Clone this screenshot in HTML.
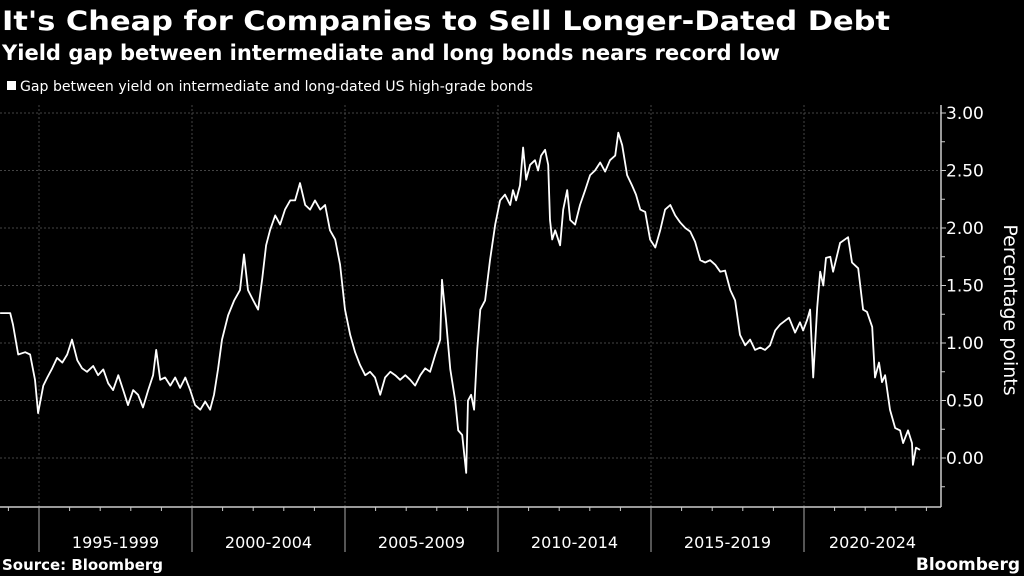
<!DOCTYPE html>
<html><head><meta charset="utf-8"><style>
html,body{margin:0;padding:0;background:#000;}
svg{display:block;}
text{font-family:"DejaVu Sans","Liberation Sans",sans-serif;fill:#fff;}
</style></head><body>
<svg id="chart" width="1024" height="576" viewBox="0 0 1024 576" xmlns="http://www.w3.org/2000/svg">
<rect width="1024" height="576" fill="#000"/>
<text x="2" y="30" font-size="27" font-weight="bold" textLength="888" lengthAdjust="spacingAndGlyphs">It's Cheap for Companies to Sell Longer-Dated Debt</text>
<text x="2" y="60" font-size="21" font-weight="bold" textLength="778" lengthAdjust="spacingAndGlyphs">Yield gap between intermediate and long bonds nears record low</text>
<rect x="7" y="81" width="9" height="9" fill="#fff"/>
<text x="20" y="91" font-size="14" textLength="513" lengthAdjust="spacingAndGlyphs">Gap between yield on intermediate and long-dated US high-grade bonds</text>
<g id="grid"></g>
<g id="axes"></g>
<path id="series" fill="none" stroke="#fff" stroke-width="1.8" stroke-linejoin="round"/>
<text transform="translate(1004,310) rotate(90)" text-anchor="middle" font-size="19">Percentage points</text>
<text x="2" y="570" font-size="15" font-weight="bold" textLength="161" lengthAdjust="spacingAndGlyphs">Source: Bloomberg</text>
<text x="1020" y="570" text-anchor="end" font-size="17" font-weight="bold" font-family="Liberation Sans, sans-serif">Bloomberg</text>
</svg>
<script>
const dates=[1993.73,1994.06,1994.15,1994.32,1994.55,1994.71,1994.87,1994.97,1995.14,1995.27,1995.43,1995.59,1995.76,1995.92,1996.08,1996.25,1996.41,1996.57,1996.77,1996.93,1997.10,1997.26,1997.42,1997.59,1997.75,1997.91,1998.08,1998.24,1998.40,1998.57,1998.73,1998.83,1998.96,1999.12,1999.29,1999.45,1999.61,1999.78,1999.94,2000.10,2000.27,2000.43,2000.59,2000.72,2000.85,2000.98,2001.18,2001.38,2001.57,2001.70,2001.83,2002.00,2002.16,2002.29,2002.42,2002.55,2002.72,2002.88,2003.04,2003.21,2003.37,2003.53,2003.70,2003.86,2004.02,2004.19,2004.35,2004.51,2004.68,2004.84,2005.00,2005.17,2005.33,2005.49,2005.66,2005.82,2005.98,2006.15,2006.31,2006.48,2006.64,2006.80,2006.97,2007.13,2007.29,2007.46,2007.62,2007.78,2007.95,2008.11,2008.17,2008.30,2008.44,2008.60,2008.70,2008.83,2008.96,2009.02,2009.12,2009.22,2009.32,2009.42,2009.58,2009.74,2009.91,2010.07,2010.23,2010.40,2010.49,2010.59,2010.72,2010.82,2010.92,2011.05,2011.21,2011.31,2011.41,2011.54,2011.64,2011.70,2011.77,2011.87,2012.03,2012.13,2012.26,2012.36,2012.52,2012.68,2012.85,2013.01,2013.17,2013.34,2013.50,2013.66,2013.83,2013.93,2014.06,2014.22,2014.38,2014.51,2014.65,2014.81,2014.97,2015.14,2015.30,2015.46,2015.63,2015.79,2015.95,2016.12,2016.28,2016.44,2016.61,2016.77,2016.93,2017.10,2017.26,2017.42,2017.59,2017.75,2017.91,2018.08,2018.24,2018.40,2018.57,2018.73,2018.89,2019.06,2019.22,2019.51,2019.71,2019.87,2019.97,2020.10,2020.20,2020.30,2020.43,2020.53,2020.63,2020.72,2020.86,2020.95,2021.18,2021.44,2021.57,2021.77,2021.93,2022.06,2022.23,2022.32,2022.45,2022.55,2022.65,2022.81,2022.98,2023.14,2023.24,2023.40,2023.53,2023.56,2023.66,2023.79];
const values=[1.26,1.26,1.16,0.90,0.92,0.90,0.68,0.39,0.63,0.70,0.78,0.87,0.83,0.90,1.03,0.85,0.78,0.75,0.80,0.72,0.77,0.65,0.59,0.72,0.59,0.46,0.59,0.55,0.44,0.59,0.72,0.94,0.68,0.70,0.63,0.70,0.61,0.70,0.59,0.46,0.42,0.49,0.42,0.55,0.77,1.03,1.24,1.37,1.46,1.77,1.46,1.37,1.29,1.55,1.85,1.98,2.11,2.03,2.16,2.24,2.24,2.39,2.20,2.16,2.24,2.16,2.20,1.98,1.90,1.68,1.29,1.07,0.92,0.81,0.72,0.75,0.70,0.55,0.70,0.75,0.72,0.68,0.72,0.68,0.63,0.72,0.78,0.75,0.90,1.03,1.55,1.20,0.77,0.50,0.24,0.20,-0.13,0.50,0.55,0.42,0.94,1.29,1.37,1.72,2.03,2.24,2.29,2.20,2.33,2.24,2.37,2.70,2.42,2.55,2.59,2.50,2.63,2.68,2.55,2.07,1.90,1.98,1.85,2.16,2.33,2.07,2.03,2.20,2.33,2.46,2.50,2.57,2.49,2.59,2.63,2.83,2.72,2.46,2.37,2.29,2.16,2.14,1.90,1.83,1.98,2.16,2.20,2.11,2.05,2.00,1.97,1.88,1.72,1.70,1.72,1.68,1.62,1.63,1.46,1.37,1.07,0.98,1.03,0.94,0.96,0.94,0.98,1.11,1.16,1.22,1.09,1.18,1.11,1.20,1.29,0.70,1.31,1.62,1.50,1.74,1.75,1.62,1.87,1.92,1.70,1.65,1.29,1.27,1.14,0.70,0.83,0.66,0.72,0.42,0.26,0.24,0.13,0.24,0.13,-0.06,0.09,0.07];
const yTicks=[0,0.5,1,1.5,2,2.5,3];
const yTickLabels=["0.00","0.50","1.00","1.50","2.00","2.50","3.00"];
const periods=["1995-1999","2000-2004","2005-2009","2010-2014","2015-2019","2020-2024"];
const periodStarts=[1995,2000,2005,2010,2015,2020];

const NS="http://www.w3.org/2000/svg";
const X0=39, PX_PER_YEAR=30.6, Y0=458, PX_PER_UNIT=115;
const PLOT_RIGHT=941, PLOT_TOP=105, AXIS_Y=507;
function xs(t){return X0+(t-1995)*PX_PER_YEAR;}
function ys(v){return Y0-v*PX_PER_UNIT;}
function mk(tag,attrs,parent){const e=document.createElementNS(NS,tag);for(const k in attrs)e.setAttribute(k,attrs[k]);parent.appendChild(e);return e;}
const grid=document.getElementById('grid'), axes=document.getElementById('axes');

yTicks.forEach((v,i)=>{
  const g=mk('line',{x1:0,x2:PLOT_RIGHT,y1:ys(v),y2:ys(v),stroke:'#444','stroke-width':1,'stroke-dasharray':'2,2'},grid);
  
  
  const t=mk('line',{x1:PLOT_RIGHT,x2:PLOT_RIGHT+5,y1:ys(v),y2:ys(v),stroke:'#ccc','stroke-width':1},axes);
  
  
  const lb=mk('text',{x:PLOT_RIGHT+5,y:ys(v)+6,'font-size':17},axes);
  lb.textContent=yTickLabels[i];
  
  
});
for(let v=-0.25;v<=3;v+=0.5){
  const t=mk('line',{x1:PLOT_RIGHT,x2:PLOT_RIGHT+4,y1:ys(v),y2:ys(v),stroke:'#ccc','stroke-width':1},axes);
  
  
}
const ya=mk('line',{x1:PLOT_RIGHT,x2:PLOT_RIGHT,y1:PLOT_TOP,y2:AXIS_Y,stroke:'#ccc','stroke-width':1.5},axes);


const xa=mk('line',{x1:0,x2:PLOT_RIGHT,y1:AXIS_Y,y2:AXIS_Y,stroke:'#ccc','stroke-width':1.5},axes);


for(let yr=1994;yr<=2024;yr++){
  const x=xs(yr); if(x<0||x>PLOT_RIGHT)continue;
  const t=mk('line',{x1:x,x2:x,y1:AXIS_Y,y2:AXIS_Y+4,stroke:'#ccc','stroke-width':1},axes);
  
  
}
periods.forEach((p,i)=>{
  const x=xs(periodStarts[i]);
  const g=mk('line',{x1:x,x2:x,y1:PLOT_TOP,y2:AXIS_Y,stroke:'#444','stroke-width':1,'stroke-dasharray':'2,2'},grid);
  
  
  const s=mk('line',{x1:x,x2:x,y1:AXIS_Y,y2:552,stroke:'#aaa','stroke-width':1},axes);
  
  
  const end=Math.min(xs(periodStarts[i]+5),PLOT_RIGHT);
  const lb=mk('text',{x:(x+end)/2,y:548,'font-size':16,'text-anchor':'middle',fill:'#ddd'},axes);
  lb.textContent=p;
  
  
});
let d='';
dates.forEach((t,i)=>{d+=(i?'L':'M')+xs(t).toFixed(1)+','+ys(values[i]).toFixed(1);});
document.getElementById('series').setAttribute('d',d);
</script>
</body></html>
